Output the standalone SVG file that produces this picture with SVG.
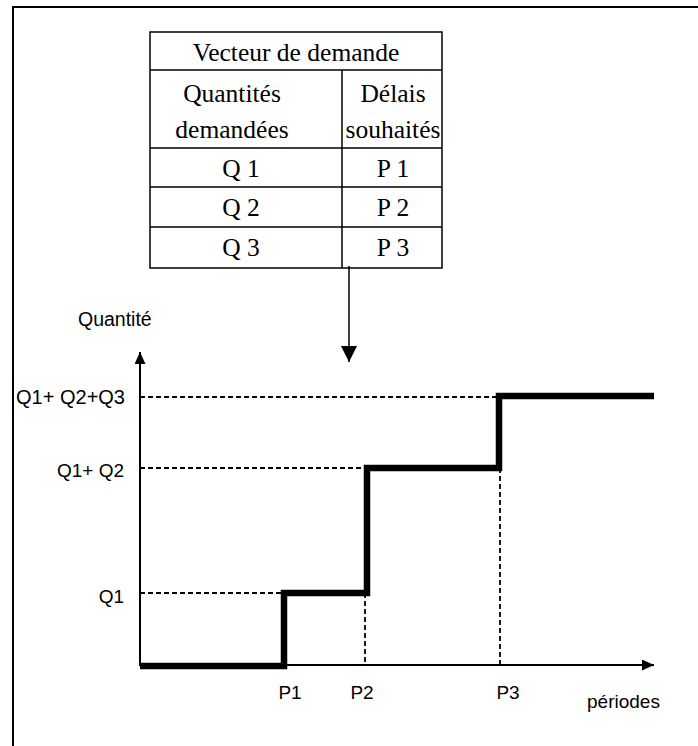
<svg xmlns="http://www.w3.org/2000/svg" width="698" height="746" viewBox="0 0 698 746">
<style>
.frame{fill:none;stroke:#000;stroke-width:2}
.tbl{fill:#fff;stroke:#000;stroke-width:1.5}
.tl{fill:none;stroke:#000;stroke-width:1.5}
.tt{font-family:"Liberation Serif","Times New Roman",serif;font-size:25.5px;fill:#000;text-anchor:middle}
.ax{fill:none;stroke:#000;stroke-width:2}
.dash{fill:none;stroke:#000;stroke-width:1.8;stroke-dasharray:5 3}
.step{fill:none;stroke:#000;stroke-width:6.5;stroke-linejoin:miter}
.lb{font-family:"Liberation Sans",Arial,sans-serif;font-size:19px;fill:#000}
</style>
<defs>
<marker id="ah" viewBox="0 0 12 11" refX="12" refY="5.5" markerWidth="12" markerHeight="11" markerUnits="userSpaceOnUse" orient="auto">
<path d="M0,0 L12,5.5 L0,11 Z" fill="#000"/>
</marker>
<marker id="ahb" viewBox="0 0 16 16" refX="16" refY="8" markerWidth="16" markerHeight="16" markerUnits="userSpaceOnUse" orient="auto">
<path d="M0,0 L16,8 L0,16 Z" fill="#000"/>
</marker>
</defs>
<path class="frame" d="M13,746 V7 H698"/>
<g id="table">
<rect class="tbl" x="150" y="32" width="292" height="236"/>
<path class="tl" d="M150,70 H442 M150,148 H442 M150,187 H442 M150,227 H442 M342,70 V268"/>
<text class="tt" x="296" y="61">Vecteur de demande</text>
<text class="tt" x="232" y="102">Quantités</text>
<text class="tt" x="232" y="138">demandées</text>
<text class="tt" x="393" y="102">Délais</text>
<text class="tt" x="393" y="138">souhaités</text>
<text class="tt" x="241" y="177">Q 1</text>
<text class="tt" x="393" y="177">P 1</text>
<text class="tt" x="241" y="216">Q 2</text>
<text class="tt" x="393" y="216">P 2</text>
<text class="tt" x="241" y="256">Q 3</text>
<text class="tt" x="393" y="256">P 3</text>
</g>
<g id="connectors">
<path class="tl" d="M349,266 V362" marker-end="url(#ahb)"/>
<path class="ax" d="M140,666 V352" marker-end="url(#ah)"/>
<path class="ax" d="M140,665 H654" marker-end="url(#ah)"/>
<path class="dash" d="M140,397 H499 M140,468 H365 M140,593 H284 M365,593 V665 M500,468 V665"/>
<path class="step" d="M140,666 H284 V593 H367 V468 H499 V396 H654"/>
</g>
<g id="labels">
<text class="lb" x="78" y="326" style="font-size:19.5px">Quantité</text>
<text class="lb" x="125" y="404" text-anchor="end" style="font-size:20px">Q1+ Q2+Q3</text>
<text class="lb" x="124" y="477" text-anchor="end">Q1+ Q2</text>
<text class="lb" x="124" y="603" text-anchor="end">Q1</text>
<text class="lb" x="290" y="699" text-anchor="middle">P1</text>
<text class="lb" x="362" y="699" text-anchor="middle">P2</text>
<text class="lb" x="508" y="699" text-anchor="middle">P3</text>
<text class="lb" x="587" y="708">périodes</text>
</g>
</svg>
